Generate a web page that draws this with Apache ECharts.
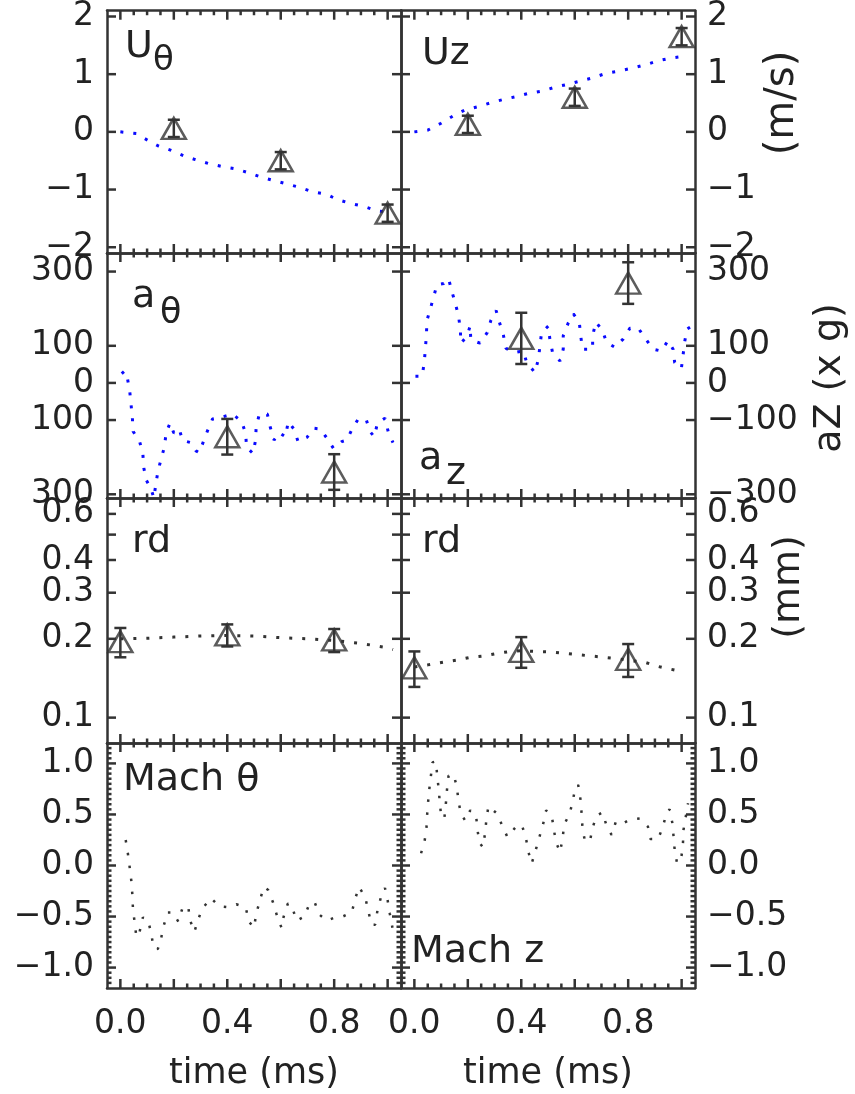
<!DOCTYPE html>
<html>
<head>
<meta charset="utf-8">
<title>Velocity, acceleration, rd and Mach number vs time</title>
<script src="https://cdn.jsdelivr.net/npm/echarts@6/dist/echarts.min.js"></script>
<style>
  html, body { margin: 0; padding: 0; background: #fff; }
  #chart { width: 855px; height: 1094px; }
</style>
</head>
<body>
<div id="chart"></div>
<script>
// ---- data (time in ms) ----
// row 1: velocities (m/s)
const uThetaTime = [0, 0.06, 0.1, 0.14, 0.19, 0.24, 0.28, 0.33, 0.38, 0.43, 0.48, 0.53, 0.57, 0.62, 0.67, 0.72, 0.77, 0.81, 0.86, 0.91, 0.96, 1.0];
const uThetaVel = [0, -0.03, -0.14, -0.24, -0.32, -0.42, -0.48, -0.55, -0.6, -0.64, -0.71, -0.79, -0.84, -0.9, -0.96, -1.04, -1.08, -1.17, -1.24, -1.29, -1.37, -1.39];
const uzTime = [0, 0.05, 0.1, 0.15, 0.19, 0.24, 0.29, 0.34, 0.38, 0.43, 0.48, 0.53, 0.57, 0.62, 0.67, 0.72, 0.76, 0.82, 0.87, 0.91, 0.96, 1.01];
const uzVel = [0, 0.03, 0.15, 0.29, 0.38, 0.44, 0.51, 0.57, 0.61, 0.67, 0.71, 0.78, 0.82, 0.88, 0.94, 1.02, 1.05, 1.11, 1.17, 1.23, 1.28, 1.31];
const uMeasTime = [0.2, 0.6, 1.0];
const uThetaMeas = [0.06, -0.5, -1.41];
const uzMeas = [0.13, 0.6, 1.65];
const uErr = [0.15, 0.15, 0.15];

// row 2: accelerations (x g)
const aThetaTime = [0.005, 0.016, 0.026, 0.035, 0.04, 0.045, 0.048, 0.072, 0.084, 0.088,
  0.097, 0.115, 0.125, 0.14, 0.152, 0.165, 0.171, 0.186, 0.2, 0.22,
  0.233, 0.264, 0.283, 0.295, 0.326, 0.345, 0.38, 0.42, 0.454, 0.469,
  0.472, 0.496, 0.506, 0.508, 0.52, 0.55, 0.56, 0.575, 0.594, 0.618,
  0.628, 0.649, 0.665, 0.698, 0.723, 0.748, 0.773, 0.797, 0.828, 0.847,
  0.866, 0.89, 0.92, 0.934, 0.95, 0.962, 0.99, 1.002, 1.02];
const aThetaAcc = [25, 32, 14, -22, -58, -95, -131, -158, -190, -230,
  -262, -285, -310, -240, -206, -172, -135, -108, -135, -124,
  -155, -161, -183, -188, -129, -97, -92, -84, -104, -137,
  -173, -190, -154, -119, -84, -84, -117, -154, -134, -145,
  -104, -124, -158, -147, -122, -124, -149, -176, -158, -154,
  -126, -97, -99, -131, -145, -108, -95, -131, -161];
const azTime = [0.004, 0.029, 0.037, 0.041, 0.045, 0.047, 0.06, 0.072, 0.085, 0.11,
  0.128, 0.14, 0.153, 0.165, 0.172, 0.174, 0.197, 0.209, 0.211, 0.246,
  0.273, 0.286, 0.306, 0.318, 0.333, 0.343, 0.377, 0.408, 0.42, 0.451,
  0.464, 0.47, 0.476, 0.501, 0.507, 0.517, 0.545, 0.557, 0.557, 0.576,
  0.595, 0.617, 0.622, 0.629, 0.667, 0.667, 0.679, 0.704, 0.719, 0.75,
  0.781, 0.806, 0.837, 0.866, 0.893, 0.924, 0.949, 0.968, 0.974, 0.999,
  1.005, 1.011, 1.02, 1.04];
const azAcc = [18, 18, 55, 91, 127, 168, 200, 232, 265, 268,
  281, 247, 215, 181, 145, 107, 126, 154, 116, 107,
  136, 168, 195, 164, 129, 93, 82, 86, 55, 28,
  64, 100, 136, 153, 118, 82, 59, 91, 127, 162,
  186, 164, 129, 91, 91, 127, 164, 141, 109, 96,
  118, 147, 148, 118, 91, 86, 114, 91, 55, 39,
  73, 109, 145, 154];
const aMeasTime = [0.4, 0.8];
const aThetaMeas = [-145, -240];
const aThetaErr = [48, 48];
const azMeas = [120, 269];
const azErr = [69, 56];

// row 3: rd (mm), shown on a logarithmic scale
const rdLeftTime = [0, 0.1, 0.2, 0.3, 0.4, 0.5, 0.6, 0.7, 0.8, 0.9, 1.0, 1.02];
const rdLeftVal = [0.2, 0.201, 0.203, 0.205, 0.206, 0.205, 0.202, 0.2, 0.197, 0.192, 0.185, 0.182];
const rdRightTime = [0, 0.05, 0.11, 0.16, 0.21, 0.26, 0.31, 0.36, 0.4, 0.46, 0.51, 0.56, 0.61, 0.66, 0.71, 0.76, 0.81, 0.86, 0.91, 0.96, 1.0];
const rdRightVal = [0.156, 0.159, 0.163, 0.166, 0.17, 0.172, 0.176, 0.179, 0.18, 0.179, 0.178, 0.176, 0.174, 0.172, 0.17, 0.168, 0.165, 0.163, 0.157, 0.153, 0.15];
const rdMeasTime = [0, 0.4, 0.8];
const rdLeftMeas = [0.195, 0.207, 0.198];
const rdLeftErr = [0.025, 0.02, 0.02];
const rdRightMeas = [0.155, 0.179, 0.167];
const rdRightErr = [0.024, 0.024, 0.024];

// row 4: Mach numbers
const machThTime = [0.02, 0.028, 0.035, 0.041, 0.045, 0.047, 0.053, 0.06, 0.072, 0.084,
  0.103, 0.115, 0.124, 0.14, 0.152, 0.161, 0.177, 0.196, 0.217, 0.233,
  0.254, 0.26, 0.277, 0.291, 0.307, 0.339, 0.37, 0.407, 0.434, 0.469,
  0.481, 0.5, 0.508, 0.522, 0.537, 0.553, 0.571, 0.587, 0.603, 0.611,
  0.627, 0.642, 0.659, 0.689, 0.708, 0.727, 0.744, 0.773, 0.801, 0.832,
  0.866, 0.878, 0.893, 0.916, 0.928, 0.94, 0.953, 0.962, 0.975, 0.99,
  1.0, 1.008, 1.018];
const machTh = [0.25, 0.12, -0.02, -0.15, -0.29, -0.42, -0.55, -0.7, -0.65, -0.51,
  -0.53, -0.66, -0.8, -0.82, -0.72, -0.6, -0.46, -0.46, -0.55, -0.41,
  -0.4, -0.53, -0.65, -0.53, -0.42, -0.32, -0.4, -0.41, -0.38, -0.41,
  -0.55, -0.61, -0.48, -0.34, -0.21, -0.24, -0.36, -0.5, -0.61, -0.5,
  -0.37, -0.4, -0.54, -0.5, -0.37, -0.36, -0.48, -0.54, -0.51, -0.5,
  -0.46, -0.33, -0.21, -0.31, -0.45, -0.58, -0.58, -0.44, -0.31, -0.22,
  -0.34, -0.47, -0.61];
const machZTime = [0.025, 0.037, 0.045, 0.047, 0.051, 0.056, 0.062, 0.068, 0.081, 0.085,
  0.091, 0.095, 0.1, 0.112, 0.118, 0.122, 0.128, 0.147, 0.159, 0.165,
  0.174, 0.19, 0.209, 0.231, 0.236, 0.244, 0.256, 0.265, 0.269, 0.277,
  0.309, 0.327, 0.348, 0.377, 0.402, 0.418, 0.427, 0.439, 0.455, 0.468,
  0.482, 0.493, 0.514, 0.522, 0.53, 0.545, 0.555, 0.56, 0.58, 0.592,
  0.601, 0.613, 0.622, 0.626, 0.629, 0.638, 0.657, 0.667, 0.682, 0.704,
  0.719, 0.738, 0.754, 0.779, 0.806, 0.843, 0.874, 0.883, 0.912, 0.93,
  0.943, 0.955, 0.965, 0.97, 0.974, 0.983, 0.999, 1.005, 1.007, 1.015,
  1.024];
const machZ = [0.12, 0.22, 0.35, 0.47, 0.61, 0.75, 0.88, 1.01, 1.02, 0.89,
  0.75, 0.62, 0.49, 0.46, 0.61, 0.74, 0.88, 0.89, 0.77, 0.63,
  0.51, 0.44, 0.54, 0.49, 0.35, 0.22, 0.18, 0.32, 0.44, 0.58,
  0.51, 0.4, 0.28, 0.37, 0.4, 0.26, 0.13, 0.02, 0.16, 0.28,
  0.41, 0.54, 0.49, 0.35, 0.23, 0.13, 0.27, 0.4, 0.5, 0.62,
  0.75, 0.79, 0.64, 0.5, 0.37, 0.24, 0.24, 0.37, 0.49, 0.52,
  0.39, 0.3, 0.43, 0.41, 0.45, 0.46, 0.38, 0.26, 0.26, 0.38,
  0.51, 0.55, 0.42, 0.28, 0.15, 0.02, 0.08, 0.22, 0.35, 0.47,
  0.61];

// ---- tick values ----
const xMajorTicks = [0, 0.2, 0.4, 0.6, 0.8, 1.0];
const xLabelTicks = [0, 0.4, 0.8];
const xMinorTicks = [0.05, 0.1, 0.15, 0.25, 0.3, 0.35, 0.45, 0.5, 0.55, 0.65, 0.7, 0.75, 0.85, 0.9, 0.95];
const uTicks = [-2, -1, 0, 1, 2];
const aTicks = [-300, -100, 0, 100, 300];
const rdTicks = [0.1, 0.2, 0.3, 0.4, 0.5, 0.6];
const rdLabelTicks = [0.1, 0.2, 0.3, 0.4, 0.6];
const machTicks = [-1, -0.5, 0, 0.5, 1];
const machMinorTicks = [-1.15, -1.1, -1.05, -0.95, -0.9, -0.85, -0.8, -0.75, -0.7, -0.65, -0.6, -0.55,
  -0.45, -0.4, -0.35, -0.3, -0.25, -0.2, -0.15, -0.1, -0.05,
  0.05, 0.1, 0.15, 0.2, 0.25, 0.3, 0.35, 0.4, 0.45,
  0.55, 0.6, 0.65, 0.7, 0.75, 0.8, 0.85, 0.9, 0.95, 1.05, 1.1, 1.15];

const INK = "#333";
const TEXT = "#222";
const BLUE = "#0a0aff";
const FONT = "DejaVu Sans";

const chart = echarts.init(document.getElementById("chart"));

const colLeft = [107, 401];
const rowTop = [9, 253, 498, 743];
const panelW = 294;
const panelH = [244, 245, 245, 245];

const minus = (s) => s.replace("-", "\u2212");
const lg = Math.log10;

// per row y settings; the rd row uses log10(mm) on a linear axis
const rows = [
  { min: -2.1, max: 2.1, ticks: uTicks, labels: uTicks, minor: [],
    fmt: [(v) => minus(String(v)), (v) => minus(String(v))] },
  { min: -310, max: 350, ticks: aTicks, labels: aTicks, minor: [],
    fmt: [(v) => String(Math.abs(v)), (v) => minus(String(v))] },
  { min: lg(0.08), max: lg(0.69), ticks: rdTicks.map(lg), labels: rdLabelTicks.map(lg), minor: [],
    fmt: [(v) => Math.pow(10, v).toFixed(1), (v) => Math.pow(10, v).toFixed(1)] },
  { min: -1.2, max: 1.2, ticks: machTicks, labels: machTicks, minor: machMinorTicks,
    fmt: [(v) => minus(v.toFixed(1)), (v) => minus(v.toFixed(1))] },
];

const grids = [];
const xAxes = [];
const yAxes = [];
const series = [];

const frameLine = () => ({ show: true, onZero: false, lineStyle: { color: INK, width: 2.5 } });
const labelStyle = { fontFamily: FONT, fontSize: 33, color: TEXT };

// each panel: bottom/top x axes and left/right y axes form the frame
for (let r = 0; r < 4; r++) {
  for (let c = 0; c < 2; c++) {
    const g = grids.length;
    grids.push({ left: colLeft[c], top: rowTop[r], width: panelW, height: panelH[r] });
    const last = r === 3;
    const xBase = { type: "value", gridIndex: g, min: -0.05, max: 1.05, splitLine: { show: false },
      axisLine: frameLine(), axisTick: { show: false } };
    const bottom = Object.assign({}, xBase, {
      position: "bottom",
      axisLabel: Object.assign({ show: last, customValues: xLabelTicks, margin: 20,
        formatter: (v) => v.toFixed(1) }, labelStyle),
    });
    if (last) {
      Object.assign(bottom, { name: "time (ms)", nameLocation: "middle", nameGap: 68,
        nameTextStyle: { fontFamily: FONT, fontSize: 35, color: TEXT } });
    }
    xAxes.push(bottom, Object.assign({}, xBase, { position: "top", axisLabel: { show: false } }));

    const R = rows[r];
    ["left", "right"].forEach((pos, side) => {
      yAxes.push({
        type: "value", gridIndex: g, min: R.min, max: R.max, position: pos,
        splitLine: { show: false }, axisLine: frameLine(), axisTick: { show: false },
        axisLabel: Object.assign({ show: side === c, customValues: R.labels, margin: side === 0 ? 13 : 12,
          formatter: R.fmt[c] }, labelStyle),
      });
    });
  }
}

// rd values are plotted as log10(mm) so the axis reads logarithmically
const yMap = [(v) => v, (v) => v, lg, (v) => v];

function lineSeries(g, times, vals, color, width, dash) {
  const f = yMap[Math.floor(g / 2)];
  return {
    type: "line", xAxisIndex: 2 * g, yAxisIndex: 2 * g,
    data: times.map((t, i) => [t, f(vals[i])]),
    showSymbol: false, symbol: "none", clip: true, silent: true, z: 2,
    lineStyle: { color: color, width: width, type: dash, cap: "butt" },
  };
}

function measSeries(g, times, vals) {
  const f = yMap[Math.floor(g / 2)];
  return {
    type: "scatter", xAxisIndex: 2 * g, yAxisIndex: 2 * g,
    data: times.map((t, i) => [t, f(vals[i])]),
    symbol: "triangle", symbolSize: [24, 21], silent: true, z: 4,
    itemStyle: { color: "rgba(0,0,0,0)", borderColor: INK, borderWidth: 2.5 },
  };
}

function errSeries(g, times, vals, errs) {
  const f = yMap[Math.floor(g / 2)];
  return {
    type: "custom", xAxisIndex: 2 * g, yAxisIndex: 2 * g, silent: true, z: 3,
    data: times.map((t, i) => [t, f(vals[i] - errs[i]), f(vals[i] + errs[i])]),
    encode: { x: 0, y: [1, 2] },
    renderItem: (params, api) => {
      const lo = api.coord([api.value(0), api.value(1)]);
      const hi = api.coord([api.value(0), api.value(2)]);
      const cap = 6;
      const st = { stroke: INK, lineWidth: 2.5, fill: null };
      return {
        type: "group",
        children: [
          { type: "line", shape: { x1: lo[0], y1: lo[1], x2: hi[0], y2: hi[1] }, style: st },
          { type: "line", shape: { x1: lo[0] - cap, y1: lo[1], x2: lo[0] + cap, y2: lo[1] }, style: st },
          { type: "line", shape: { x1: hi[0] - cap, y1: hi[1], x2: hi[0] + cap, y2: hi[1] }, style: st },
        ],
      };
    },
  };
}

// inward tick marks on all four sides, placed through the panel's scales;
// each item is [x, y, side (0 = x ticks, 1 = y ticks), length]
function tickSeries(g, r) {
  const R = rows[r];
  const midY = (R.min + R.max) / 2;
  const midX = 0.5;
  const data = [];
  xMajorTicks.forEach((v) => data.push([v, midY, 0, 9]));
  xMinorTicks.forEach((v) => data.push([v, midY, 0, 4.5]));
  R.ticks.forEach((v) => data.push([midX, v, 1, 9]));
  R.minor.forEach((v) => data.push([midX, v, 1, 4.5]));
  return {
    type: "custom", xAxisIndex: 2 * g, yAxisIndex: 2 * g, silent: true,
    zlevel: 1, z: 20, clip: false,
    data: data,
    encode: { x: 0, y: 1 },
    renderItem: (params, api) => {
      const cs = params.coordSys;
      const p = api.coord([api.value(0), api.value(1)]);
      const len = api.value(3);
      const st = { stroke: INK, lineWidth: 2.5, fill: null };
      if (api.value(2) === 0) {
        const yb = cs.y + cs.height;
        return {
          type: "group",
          children: [
            { type: "line", shape: { x1: p[0], y1: yb, x2: p[0], y2: yb - len }, style: st },
            { type: "line", shape: { x1: p[0], y1: cs.y, x2: p[0], y2: cs.y + len }, style: st },
          ],
        };
      }
      const xr = cs.x + cs.width;
      return {
        type: "group",
        children: [
          { type: "line", shape: { x1: cs.x, y1: p[1], x2: cs.x + len, y2: p[1] }, style: st },
          { type: "line", shape: { x1: xr, y1: p[1], x2: xr - len, y2: p[1] }, style: st },
        ],
      };
    },
  };
}

const blueDots = [3, 10];
const blackDots = [3, 10];
const machDots = [2.5, 10.5];

series.push(
  lineSeries(0, uThetaTime, uThetaVel, BLUE, 3, blueDots),
  errSeries(0, uMeasTime, uThetaMeas, uErr),
  measSeries(0, uMeasTime, uThetaMeas),
  lineSeries(1, uzTime, uzVel, BLUE, 3, blueDots),
  errSeries(1, uMeasTime, uzMeas, uErr),
  measSeries(1, uMeasTime, uzMeas),
  lineSeries(2, aThetaTime, aThetaAcc, BLUE, 3, blueDots),
  errSeries(2, aMeasTime, aThetaMeas, aThetaErr),
  measSeries(2, aMeasTime, aThetaMeas),
  lineSeries(3, azTime, azAcc, BLUE, 3, blueDots),
  errSeries(3, aMeasTime, azMeas, azErr),
  measSeries(3, aMeasTime, azMeas),
  lineSeries(4, rdLeftTime, rdLeftVal, INK, 3, blackDots),
  errSeries(4, rdMeasTime, rdLeftMeas, rdLeftErr),
  measSeries(4, rdMeasTime, rdLeftMeas),
  lineSeries(5, rdRightTime, rdRightVal, INK, 3, blackDots),
  errSeries(5, rdMeasTime, rdRightMeas, rdRightErr),
  measSeries(5, rdMeasTime, rdRightMeas),
  lineSeries(6, machThTime, machTh, INK, 2.5, machDots),
  lineSeries(7, machZTime, machZ, INK, 2.5, machDots)
);
for (let g = 0; g < 8; g++) series.push(tickSeries(g, Math.floor(g / 2)));

// panel labels and rotated unit titles (baseline-based placement)
function label(text, x, baseline, size) {
  return {
    type: "text", x: x, y: baseline - 0.346 * size, silent: true, z: 10,
    style: { text: text, font: size + "px '" + FONT + "'", fill: TEXT, textAlign: "left", textVerticalAlign: "middle" },
  };
}
function unitTitle(text, cx, cy, size) {
  return {
    type: "text", x: cx, y: cy, rotation: Math.PI / 2, silent: true, z: 10,
    style: { text: text, font: size + "px '" + FONT + "'", fill: TEXT, textAlign: "center", textVerticalAlign: "middle" },
  };
}

const graphics = [
  label("U", 125, 60, 38), label("\u03b8", 153, 73, 34),
  label("Uz", 422, 67, 38),
  label("a", 132, 310, 38), label("\u03b8", 160, 326, 35),
  label("a", 419, 472, 38), label("z", 446, 487, 38),
  label("rd", 132, 555, 38), label("rd", 422, 555, 38),
  label("Mach \u03b8", 123, 793, 38), label("Mach z", 411, 965, 38),
  unitTitle("(m/s)", 783, 103, 40),
  unitTitle("aZ (x g)", 830, 378, 38),
  unitTitle("(mm)", 789, 587, 38),
];

chart.setOption({
  backgroundColor: "#fff",
  animation: false,
  grid: grids,
  xAxis: xAxes,
  yAxis: yAxes,
  series: series,
  graphic: graphics,
});
</script>
</body>
</html>
